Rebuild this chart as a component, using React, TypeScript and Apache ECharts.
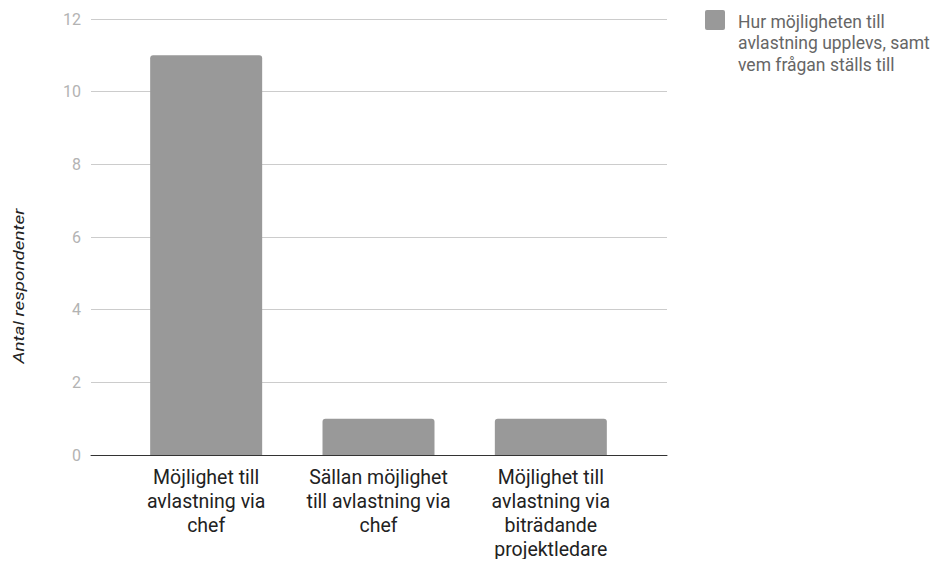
import React, { useEffect, useRef } from "react";
import * as echarts from "echarts";

const categories = [
  "Möjlighet till\navlastning via\nchef",
  "Sällan möjlighet\ntill avlastning via\nchef",
  "Möjlighet till\navlastning via\nbiträdande\nprojektledare",
];
const values = [11, 1, 1];
const seriesName = "Hur möjligheten till\navlastning upplevs, samt\nvem frågan ställs till";
const yTicks = { min: 0, max: 12, interval: 2 };
const yAxisTitle = "Antal respondenter";

export default function App() {
  const ref = useRef<HTMLDivElement>(null);
  useEffect(() => {
    if (!ref.current) return;
    const chart = echarts.init(ref.current, undefined, { renderer: "svg" });
    chart.setOption({
      animation: false,
      textStyle: { fontFamily: "Roboto" },
      // grid 0: full-width frame with gridlines and baseline; grid 1: inset band for the bars
      grid: [
        { left: 91, right: 272, top: 19, bottom: 112 },
        { left: 120, right: 302, top: 19, bottom: 112 },
      ],
      xAxis: [
        {
          gridIndex: 0,
          type: "value",
          min: 0,
          max: 1,
          axisTick: { show: false },
          axisLabel: { show: false },
          splitLine: { show: false },
          axisLine: { show: true, lineStyle: { color: "#333", width: 1 } },
        },
        {
          gridIndex: 1,
          type: "category",
          data: categories,
          axisTick: { show: false },
          axisLine: { show: false },
          axisLabel: {
            color: "#222",
            fontSize: 19.5,
            lineHeight: 24,
            margin: 10,
            interval: 0,
            align: "center",
          },
        },
      ],
      yAxis: [
        {
          gridIndex: 0,
          type: "value",
          min: yTicks.min,
          max: yTicks.max,
          interval: yTicks.interval,
          axisLine: { show: false },
          axisTick: { show: false },
          axisLabel: { color: "#b3b3b3", fontSize: 16, margin: 10 },
          splitLine: { lineStyle: { color: "#ccc", width: 1 } },
        },
        {
          gridIndex: 1,
          type: "value",
          min: yTicks.min,
          max: yTicks.max,
          interval: yTicks.interval,
          show: false,
          splitLine: { show: false },
        },
      ],
      series: [
        {
          name: seriesName,
          type: "bar",
          xAxisIndex: 1,
          yAxisIndex: 1,
          data: values,
          barWidth: 112,
          itemStyle: { color: "#999999", borderRadius: [3, 3, 0, 0] },
        },
      ],
      graphic: [
        {
          type: "text",
          x: 19,
          y: 286,
          rotation: Math.PI / 2,
          scaleX: 1.3,
          style: {
            text: yAxisTitle,
            fill: "#222",
            font: "italic 14.5px Roboto",
            align: "center",
            verticalAlign: "middle",
          },
        },
        {
          type: "rect",
          shape: { x: 705, y: 10, width: 20, height: 20, r: 2 },
          style: { fill: "#999999" },
        },
        {
          type: "text",
          x: 738,
          y: 11,
          style: {
            text: seriesName,
            fill: "#666",
            font: "17.5px Roboto",
            lineHeight: 21.5,
            align: "left",
            verticalAlign: "top",
          },
        },
      ],
    });
    return () => chart.dispose();
  }, []);
  return <div ref={ref} style={{ width: 939, height: 567, margin: -8 }} />;
}
